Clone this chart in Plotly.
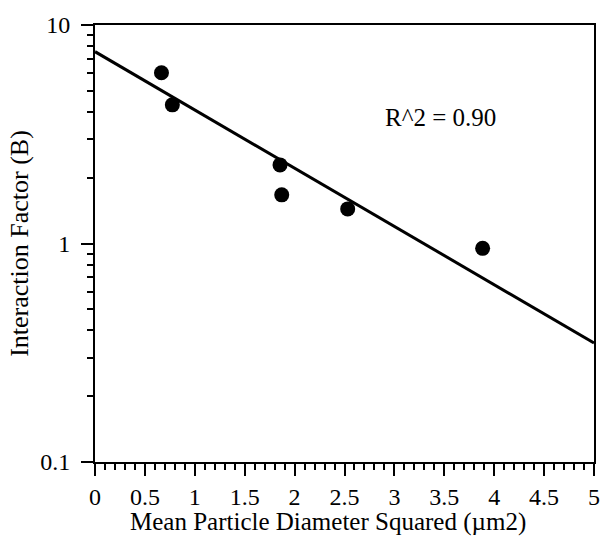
import numpy as np
import plotly.graph_objects as go

# Measured points
diameter_sq = [0.666, 0.775, 1.854, 1.871, 2.532, 3.884]   # mean particle diameter squared (µm2)
interaction = [6.05, 4.31, 2.29, 1.67, 1.44, 0.95]          # interaction factor B

# Exponential fit B = A * 10^(k * d2)
fit_A = 7.55
fit_k = -0.2666
fit_range = [0.0, 5.0]
r_squared = 0.90

x_major = [0, 0.5, 1, 1.5, 2, 2.5, 3, 3.5, 4, 4.5, 5]
y_major = [0.1, 1, 10]
y_labels = ["0.1", "1", "10"]
y_minor = [m * d for d in (0.1, 1) for m in range(2, 10)]

fit_x = np.array(fit_range)
fit_y = fit_A * 10 ** (fit_k * fit_x)

serif = "Liberation Serif"

fig = go.Figure()
fig.add_trace(go.Scatter(x=fit_x, y=fit_y, mode="lines",
                         line=dict(color="black", width=3), hoverinfo="skip"))
fig.add_trace(go.Scatter(x=diameter_sq, y=interaction, mode="markers",
                         marker=dict(color="black", size=15)))

fig.update_layout(
    width=605, height=548,
    margin=dict(l=95, r=5, t=25, b=86),
    paper_bgcolor="white", plot_bgcolor="white",
    showlegend=False,
    font=dict(family=serif, size=24, color="black"),
)

fig.update_xaxes(
    range=[0, 5], tickvals=x_major, ticktext=[f"{v:g}" for v in x_major],
    ticks="outside", ticklen=12, tickwidth=2, tickcolor="black",
    showline=True, linecolor="black", linewidth=2, mirror=True,
    showgrid=False, zeroline=False,
    minor=dict(dtick=0.1, tick0=0, ticks="outside", ticklen=6,
               tickwidth=2, tickcolor="black", showgrid=False),
    tickfont=dict(family=serif, size=24),
)
fig.update_yaxes(
    type="log", range=[-1, 1], tickvals=y_major,
    ticktext=[lab + "\u00a0" for lab in y_labels],
    ticks="outside", ticklen=12, tickwidth=2, tickcolor="black",
    showline=True, linecolor="black", linewidth=2, mirror=True,
    showgrid=False, zeroline=False,
    minor=dict(tickmode="array", tickvals=y_minor, ticks="outside", ticklen=6,
               tickwidth=2, tickcolor="black", showgrid=False),
    tickfont=dict(family=serif, size=24),
    title=dict(text="Interaction Factor (B)", font=dict(family=serif, size=26), standoff=4),
)

fig.add_annotation(
    text="Mean Particle Diameter Squared (µm2)",
    xref="paper", yref="paper", x=(331 - 95) / 505, y=-60 / 437,
    xanchor="center", yanchor="middle", showarrow=False,
    font=dict(family=serif, size=25),
)
fig.add_annotation(
    text=f"R^2 = {r_squared:.2f}",
    xref="paper", yref="paper", x=(386 - 95) / 505, y=(462 - 117) / 437,
    xanchor="left", yanchor="middle", showarrow=False,
    font=dict(family=serif, size=25),
)

fig.write_html("out.html")
